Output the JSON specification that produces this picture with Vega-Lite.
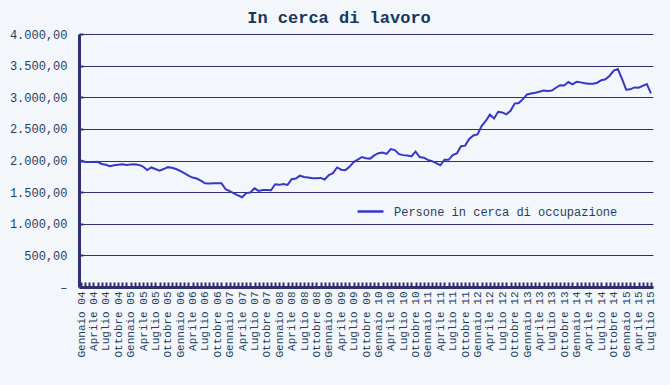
{
  "$schema": "https://vega.github.io/schema/vega-lite/v6.json",
  "width": 574,
  "height": 253,
  "autosize": {"type": "none"},
  "padding": {"left": 79, "top": 34, "right": 17, "bottom": 98},
  "background": "#F3F7FC",
  "config": {
    "view": {"stroke": null},
    "locale": {"number": {"decimal": ",", "thousands": ".", "grouping": [3], "currency": ["", ""]}}
  },
  "title": {"text": "In cerca di lavoro", "font": "Liberation Mono", "fontSize": 17, "fontWeight": "bold", "color": "#17365D", "anchor": "middle", "dx": -27, "dy": 5, "offset": 6},
  "data": {"values": [
    {"mese": "Gennaio 04", "valore": 2000}, {"mese": "Febbraio 04", "valore": 1978}, {"mese": "Marzo 04", "valore": 1975}, {"mese": "Aprile 04", "valore": 1975}, {"mese": "Maggio 04", "valore": 1980}, {"mese": "Giugno 04", "valore": 1945}, {"mese": "Luglio 04", "valore": 1932}, {"mese": "Agosto 04", "valore": 1910}, {"mese": "Settembre 04", "valore": 1925}, {"mese": "Ottobre 04", "valore": 1933}, {"mese": "Novembre 04", "valore": 1940}, {"mese": "Dicembre 04", "valore": 1930},
    {"mese": "Gennaio 05", "valore": 1935}, {"mese": "Febbraio 05", "valore": 1940}, {"mese": "Marzo 05", "valore": 1930}, {"mese": "Aprile 05", "valore": 1905}, {"mese": "Maggio 05", "valore": 1850}, {"mese": "Giugno 05", "valore": 1890}, {"mese": "Luglio 05", "valore": 1865}, {"mese": "Agosto 05", "valore": 1840}, {"mese": "Settembre 05", "valore": 1865}, {"mese": "Ottobre 05", "valore": 1895}, {"mese": "Novembre 05", "valore": 1885}, {"mese": "Dicembre 05", "valore": 1865},
    {"mese": "Gennaio 06", "valore": 1835}, {"mese": "Febbraio 06", "valore": 1800}, {"mese": "Marzo 06", "valore": 1760}, {"mese": "Aprile 06", "valore": 1730}, {"mese": "Maggio 06", "valore": 1715}, {"mese": "Giugno 06", "valore": 1680}, {"mese": "Luglio 06", "valore": 1640}, {"mese": "Agosto 06", "valore": 1638}, {"mese": "Settembre 06", "valore": 1640}, {"mese": "Ottobre 06", "valore": 1640}, {"mese": "Novembre 06", "valore": 1640}, {"mese": "Dicembre 06", "valore": 1545},
    {"mese": "Gennaio 07", "valore": 1515}, {"mese": "Febbraio 07", "valore": 1480}, {"mese": "Marzo 07", "valore": 1450}, {"mese": "Aprile 07", "valore": 1420}, {"mese": "Maggio 07", "valore": 1485}, {"mese": "Giugno 07", "valore": 1495}, {"mese": "Luglio 07", "valore": 1560}, {"mese": "Agosto 07", "valore": 1520}, {"mese": "Settembre 07", "valore": 1535}, {"mese": "Ottobre 07", "valore": 1535}, {"mese": "Novembre 07", "valore": 1530}, {"mese": "Dicembre 07", "valore": 1625},
    {"mese": "Gennaio 08", "valore": 1615}, {"mese": "Febbraio 08", "valore": 1630}, {"mese": "Marzo 08", "valore": 1615}, {"mese": "Aprile 08", "valore": 1705}, {"mese": "Maggio 08", "valore": 1715}, {"mese": "Giugno 08", "valore": 1760}, {"mese": "Luglio 08", "valore": 1740}, {"mese": "Agosto 08", "valore": 1730}, {"mese": "Settembre 08", "valore": 1720}, {"mese": "Ottobre 08", "valore": 1720}, {"mese": "Novembre 08", "valore": 1725}, {"mese": "Dicembre 08", "valore": 1700},
    {"mese": "Gennaio 09", "valore": 1770}, {"mese": "Febbraio 09", "valore": 1800}, {"mese": "Marzo 09", "valore": 1890}, {"mese": "Aprile 09", "valore": 1855}, {"mese": "Maggio 09", "valore": 1848}, {"mese": "Giugno 09", "valore": 1900}, {"mese": "Luglio 09", "valore": 1975}, {"mese": "Agosto 09", "valore": 2015}, {"mese": "Settembre 09", "valore": 2055}, {"mese": "Ottobre 09", "valore": 2035}, {"mese": "Novembre 09", "valore": 2030}, {"mese": "Dicembre 09", "valore": 2080},
    {"mese": "Gennaio 10", "valore": 2115}, {"mese": "Febbraio 10", "valore": 2125}, {"mese": "Marzo 10", "valore": 2105}, {"mese": "Aprile 10", "valore": 2180}, {"mese": "Maggio 10", "valore": 2165}, {"mese": "Giugno 10", "valore": 2100}, {"mese": "Luglio 10", "valore": 2085}, {"mese": "Agosto 10", "valore": 2080}, {"mese": "Settembre 10", "valore": 2065}, {"mese": "Ottobre 10", "valore": 2140}, {"mese": "Novembre 10", "valore": 2055}, {"mese": "Dicembre 10", "valore": 2045},
    {"mese": "Gennaio 11", "valore": 2010}, {"mese": "Febbraio 11", "valore": 1990}, {"mese": "Marzo 11", "valore": 1960}, {"mese": "Aprile 11", "valore": 1925}, {"mese": "Maggio 11", "valore": 2010}, {"mese": "Giugno 11", "valore": 2010}, {"mese": "Luglio 11", "valore": 2085}, {"mese": "Agosto 11", "valore": 2110}, {"mese": "Settembre 11", "valore": 2225}, {"mese": "Ottobre 11", "valore": 2235}, {"mese": "Novembre 11", "valore": 2340}, {"mese": "Dicembre 11", "valore": 2395},
    {"mese": "Gennaio 12", "valore": 2412}, {"mese": "Febbraio 12", "valore": 2545}, {"mese": "Marzo 12", "valore": 2625}, {"mese": "Aprile 12", "valore": 2725}, {"mese": "Maggio 12", "valore": 2665}, {"mese": "Giugno 12", "valore": 2770}, {"mese": "Luglio 12", "valore": 2760}, {"mese": "Agosto 12", "valore": 2730}, {"mese": "Settembre 12", "valore": 2785}, {"mese": "Ottobre 12", "valore": 2900}, {"mese": "Novembre 12", "valore": 2910}, {"mese": "Dicembre 12", "valore": 2970},
    {"mese": "Gennaio 13", "valore": 3045}, {"mese": "Febbraio 13", "valore": 3058}, {"mese": "Marzo 13", "valore": 3072}, {"mese": "Aprile 13", "valore": 3088}, {"mese": "Maggio 13", "valore": 3105}, {"mese": "Giugno 13", "valore": 3100}, {"mese": "Luglio 13", "valore": 3105}, {"mese": "Agosto 13", "valore": 3150}, {"mese": "Settembre 13", "valore": 3190}, {"mese": "Ottobre 13", "valore": 3185}, {"mese": "Novembre 13", "valore": 3240}, {"mese": "Dicembre 13", "valore": 3205},
    {"mese": "Gennaio 14", "valore": 3245}, {"mese": "Febbraio 14", "valore": 3235}, {"mese": "Marzo 14", "valore": 3220}, {"mese": "Aprile 14", "valore": 3215}, {"mese": "Maggio 14", "valore": 3215}, {"mese": "Giugno 14", "valore": 3230}, {"mese": "Luglio 14", "valore": 3270}, {"mese": "Agosto 14", "valore": 3285}, {"mese": "Settembre 14", "valore": 3340}, {"mese": "Ottobre 14", "valore": 3420}, {"mese": "Novembre 14", "valore": 3445}, {"mese": "Dicembre 14", "valore": 3290},
    {"mese": "Gennaio 15", "valore": 3120}, {"mese": "Febbraio 15", "valore": 3125}, {"mese": "Marzo 15", "valore": 3155}, {"mese": "Aprile 15", "valore": 3150}, {"mese": "Maggio 15", "valore": 3180}, {"mese": "Giugno 15", "valore": 3210}, {"mese": "Luglio 15", "valore": 3060}
  ]},
  "mark": {"type": "line", "strokeWidth": 2},
  "encoding": {
    "x": {
      "field": "mese", "type": "nominal", "sort": null,
      "scale": {"type": "point", "padding": 0.5},
      "axis": {
        "title": null, "labelAngle": 270, "labelFont": "Liberation Mono", "labelFontSize": 11, "labelColor": "#1F3F5F",
        "labelExpr": "(indexof(datum.value,'Gennaio') == 0 || indexof(datum.value,'Aprile') == 0 || indexof(datum.value,'Luglio') == 0 || indexof(datum.value,'Ottobre') == 0) ? datum.value : ''",
        "labelOverlap": false, "labelPadding": 9, "labelLimit": 200,
        "tickSize": -5, "tickWidth": 2, "tickColor": "#303070",
        "domainColor": "#303070", "domainWidth": 3, "grid": false
      }
    },
    "y": {
      "field": "valore", "type": "quantitative",
      "scale": {"domain": [0, 4000], "nice": false},
      "axis": {
        "title": null, "values": [0, 500, 1000, 1500, 2000, 2500, 3000, 3500, 4000],
        "format": ",.2f",
        "labelExpr": "datum.value == 0 ? '–\u00a0\u00a0' : datum.label",
        "labelFont": "Liberation Mono", "labelFontSize": 12, "labelColor": "#1F3F5F",
        "grid": true, "gridColor": "#303070", "gridWidth": 1,
        "domainColor": "#303070", "domainWidth": 3,
        "tickSize": -4, "tickWidth": 2, "tickColor": "#303070", "labelPadding": 16
      }
    },
    "color": {
      "datum": "Persone in cerca di occupazione",
      "scale": {"range": ["#3636C8"]},
      "legend": {
        "orient": "none", "legendX": 277, "legendY": 163, "title": null,
        "symbolType": "stroke", "symbolStrokeWidth": 2.5, "symbolSize": 676,
        "labelFont": "Liberation Mono", "labelFontSize": 12, "labelColor": "#1F3F5F", "labelOffset": 9, "labelLimit": 400
      }
    }
  }
}
